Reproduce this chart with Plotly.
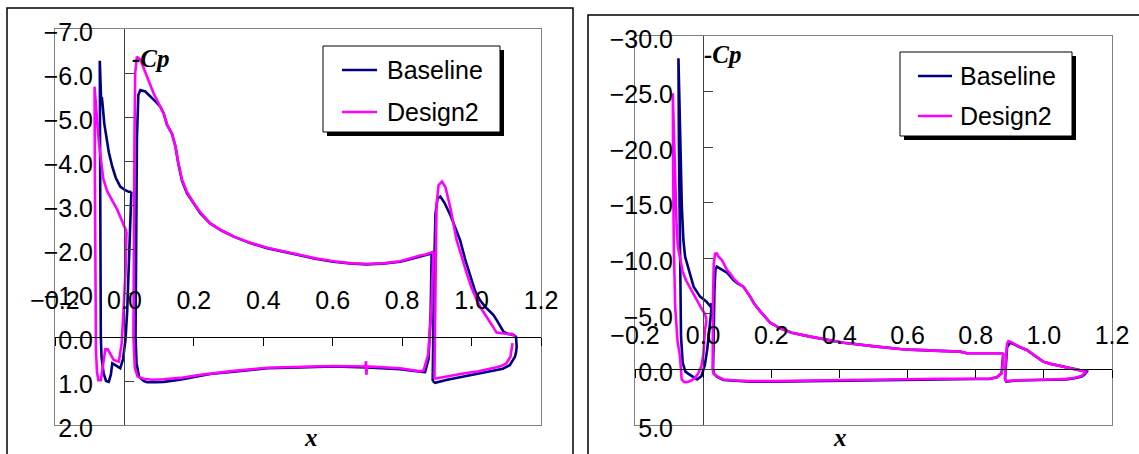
import plotly.graph_objects as go

W, H = 1139, 454

# ---------------- tick values / labels ----------------
X_TICKS = [-0.2, 0.0, 0.2, 0.4, 0.6, 0.8, 1.0, 1.2]
X_TICK_TEXT = ["−0.2", "0.0", "0.2", "0.4", "0.6", "0.8", "1.0", "1.2"]
L_Y_TICKS = [-7, -6, -5, -4, -3, -2, -1, 0, 1, 2]
L_Y_TICK_TEXT = ["−7.0", "−6.0", "−5.0", "−4.0", "−3.0", "−2.0", "−1.0", "0.0", "1.0", "2.0"]
R_Y_TICKS = [-30, -25, -20, -15, -10, -5, 0, 5]
R_Y_TICK_TEXT = ["−30.0", "−25.0", "−20.0", "−15.0", "−10.0", "−5.0", "0.0", "5.0"]
SERIES = ["Baseline", "Design2"]

# ---------------- LEFT panel data (x, Cp) ----------------
L_BASE_SLAT_X = [0.020, 0.012, 0.000, -0.012, -0.025, -0.035, -0.045, -0.052, -0.058, -0.062, -0.065, -0.067, -0.071,
                 -0.070, -0.069, -0.068, -0.066, -0.063, -0.060, -0.053, -0.045, -0.039, -0.035, -0.026, -0.012, -0.004,
                 0.003, 0.008, 0.012, 0.017, 0.020]
L_BASE_SLAT_CP = [-3.30, -3.30, -3.35, -3.42, -3.62, -3.87, -4.20, -4.50, -4.85, -5.20, -5.45, -5.35, -6.28,
                  -4.00, -1.50, 0.00, 0.45, 0.70, 0.83, 1.00, 1.02, 0.85, 0.60, 0.64, 0.71, 0.50,
                  0.07, -0.60, -1.45, -2.73, -3.30]
L_BASE_MAIN_X = [0.885, 0.870, 0.852, 0.820, 0.794, 0.750, 0.698, 0.650, 0.602, 0.550, 0.506, 0.460, 0.411, 0.360,
                 0.315, 0.280, 0.247, 0.219, 0.200, 0.180, 0.166, 0.155, 0.147, 0.137, 0.130, 0.123, 0.113, 0.104,
                 0.090, 0.075, 0.060, 0.046, 0.040, 0.036, 0.033,
                 0.032, 0.035, 0.042, 0.055, 0.065, 0.090, 0.113, 0.160, 0.219, 0.247, 0.315, 0.411, 0.506, 0.602,
                 0.698, 0.794, 0.852, 0.866, 0.876, 0.882, 0.885]
L_BASE_MAIN_CP = [-1.90, -1.86, -1.83, -1.76, -1.71, -1.67, -1.65, -1.67, -1.71, -1.78, -1.86, -1.93, -2.02, -2.14,
                  -2.28, -2.42, -2.58, -2.81, -3.02, -3.27, -3.55, -3.95, -4.33, -4.62, -4.72, -4.82, -5.08, -5.23,
                  -5.35, -5.46, -5.58, -5.61, -5.50, -4.50, -2.00,
                  0.00, 0.60, 0.90, 1.00, 1.03, 1.03, 1.02, 0.97, 0.88, 0.84, 0.79, 0.71, 0.69, 0.67,
                  0.69, 0.73, 0.79, 0.80, 0.50, -0.50, -1.90]
L_BASE_FLAP_X = [0.888, 0.889, 0.892, 0.896, 0.902, 0.910, 0.922, 0.940, 0.955, 0.967, 0.982, 0.996, 1.010, 1.024,
                 1.040, 1.053, 1.063, 1.072, 1.082, 1.092, 1.105, 1.120, 1.128,
                 1.130, 1.128, 1.125, 1.110, 1.090, 1.072, 1.020, 0.976, 0.930, 0.895, 0.888]
L_BASE_FLAP_CP = [1.00, 0.00, -1.50, -2.80, -3.15, -3.19, -3.05, -2.75, -2.45, -2.20, -1.75, -1.37, -1.05, -0.84,
                  -0.68, -0.58, -0.50, -0.39, -0.25, -0.12, -0.07, -0.05, 0.00,
                  0.22, 0.35, 0.45, 0.64, 0.72, 0.75, 0.83, 0.89, 0.97, 1.04, 1.00]

L_D2_SLAT_X = [0.006, 0.000, -0.010, -0.021, -0.035, -0.050, -0.061, -0.069, -0.074, -0.079, -0.083, -0.086,
               -0.085, -0.084, -0.082, -0.079, -0.075, -0.068, -0.061, -0.055, -0.048, -0.040, -0.031, -0.016,
               -0.008, -0.002, 0.003, 0.006]
L_D2_SLAT_CP = [-2.40, -2.52, -2.70, -2.90, -3.10, -3.32, -3.60, -4.05, -4.45, -4.95, -5.40, -5.69,
                -3.50, -1.00, 0.30, 0.80, 0.98, 0.98, 0.55, 0.28, 0.28, 0.40, 0.52, 0.56,
                0.15, -0.69, -1.45, -2.40]
L_D2_MAIN_X = [0.890, 0.870, 0.852, 0.820, 0.794, 0.750, 0.698, 0.650, 0.602, 0.550, 0.506, 0.460, 0.411, 0.360,
               0.315, 0.280, 0.247, 0.219, 0.200, 0.180, 0.166, 0.155, 0.147, 0.137, 0.130, 0.123, 0.113, 0.100,
               0.084, 0.065, 0.046, 0.036, 0.031, 0.029, 0.027,
               0.026, 0.030, 0.038, 0.055, 0.080, 0.113, 0.160, 0.219, 0.315, 0.411, 0.506, 0.602, 0.694, 0.696,
               0.697, 0.699, 0.794, 0.852, 0.862, 0.875, 0.884, 0.890]
L_D2_MAIN_CP = [-1.94, -1.88, -1.85, -1.77, -1.72, -1.68, -1.66, -1.68, -1.72, -1.79, -1.87, -1.94, -2.03, -2.15,
                -2.28, -2.42, -2.58, -2.83, -3.04, -3.30, -3.57, -3.97, -4.33, -4.62, -4.72, -4.82, -5.08, -5.30,
                -5.54, -5.92, -6.30, -6.37, -6.00, -4.50, -2.00,
                0.00, 0.70, 0.90, 0.95, 0.97, 0.96, 0.93, 0.86, 0.77, 0.70, 0.68, 0.66, 0.67, 0.55,
                0.86, 0.67, 0.71, 0.78, 0.76, 0.40, -0.60, -1.94]
L_D2_FLAP_UP_X = [0.893, 0.894, 0.896, 0.899, 0.905, 0.915, 0.925, 0.940, 0.957, 0.972, 0.986, 1.000, 1.015, 1.030,
                  1.044, 1.058, 1.072, 1.090, 1.105, 1.116, 1.125]
L_D2_FLAP_UP_CP = [0.95, 0.00, -1.50, -3.00, -3.45, -3.53, -3.40, -2.90, -2.20, -1.80, -1.45, -1.12, -0.84, -0.62,
                   -0.46, -0.28, -0.10, -0.08, -0.07, -0.07, 0.00]
L_D2_FLAP_LO_X = [1.118, 1.116, 1.112, 1.100, 1.085, 1.072, 1.020, 0.976, 0.930, 0.895, 0.893]
L_D2_FLAP_LO_CP = [0.14, 0.30, 0.45, 0.60, 0.66, 0.69, 0.78, 0.83, 0.90, 0.96, 0.95]

# ---------------- RIGHT panel data (x, Cp) ----------------
R_BASE_SLAT_X = [0.0255, 0.0205, 0.010, -0.009, -0.028, -0.038, -0.048, -0.053, -0.058, -0.0625, -0.0675, -0.0725,
                 -0.071, -0.068, -0.065, -0.060, -0.052, -0.043, -0.030, -0.018, -0.005, 0.005, 0.012, 0.018,
                 0.023, 0.0255]
R_BASE_SLAT_CP = [-5.95, -5.70, -6.10, -6.55, -7.45, -8.65, -9.60, -10.15, -11.65, -14.60, -20.60, -28.00,
                  -20.0, -9.0, -3.0, -0.6, 0.2, 0.4, 0.7, 0.9, 0.6, -0.4, -1.8, -3.3, -5.0, -5.95]
R_BASE_MAIN_X = [0.881, 0.850, 0.800, 0.774, 0.754, 0.705, 0.676, 0.607, 0.578, 0.510, 0.412, 0.314, 0.260, 0.226,
                 0.197, 0.167, 0.150, 0.138, 0.118, 0.100, 0.089, 0.070, 0.055, 0.040, 0.036, 0.033, 0.031, 0.029,
                 0.032, 0.040, 0.060, 0.100, 0.138, 0.200, 0.300, 0.400, 0.500, 0.600, 0.700, 0.800, 0.840,
                 0.862, 0.876, 0.879, 0.881]
R_BASE_MAIN_CP = [-1.45, -1.45, -1.45, -1.45, -1.60, -1.62, -1.69, -1.78, -1.84, -2.05, -2.40, -2.95, -3.30, -3.70,
                  -4.20, -5.25, -5.90, -6.55, -7.45, -7.75, -8.05, -8.70, -8.95, -9.25, -9.00, -7.00, -3.00, 0.00,
                  0.40, 0.65, 0.95, 1.05, 1.10, 1.10, 1.05, 1.00, 0.95, 0.90, 0.86, 0.86, 0.86,
                  0.71, 0.35, -0.50, -1.45]
R_BASE_FLAP_X = [0.886, 0.888, 0.892, 0.900, 0.910, 0.930, 0.950, 0.975, 0.998, 1.020, 1.048, 1.070, 1.095, 1.110,
                 1.126, 1.120, 1.111, 1.090, 1.066, 1.020, 0.970, 0.920, 0.890, 0.886]
R_BASE_FLAP_CP = [0.9, -0.5, -2.0, -2.4, -2.3, -2.0, -1.75, -1.2, -0.7, -0.5, -0.3, -0.15, 0.0, 0.1,
                  0.2, 0.45, 0.65, 0.8, 0.9, 0.93, 0.95, 1.0, 1.1, 0.9]

R_D2_SLAT_X = [0.010, 0.005, -0.005, -0.018, -0.030, -0.040, -0.050, -0.060, -0.068, -0.074, -0.078, -0.082, -0.085,
               -0.087, -0.089, -0.088, -0.086, -0.082, -0.075, -0.068, -0.063, -0.055, -0.045, -0.035, -0.025,
               -0.015, -0.005, 0.001, 0.005, 0.010]
R_D2_SLAT_CP = [-4.45, -5.00, -5.50, -6.25, -6.90, -7.40, -8.00, -8.80, -10.00, -11.00, -13.00, -17.60, -22.00,
                -24.00, -24.85, -18.0, -11.0, -5.6, -2.5, -1.2, 0.9, 1.15, 1.12, 1.0, 0.8,
                0.4, -0.3, -1.45, -3.5, -4.45]
R_D2_MAIN_X = [0.881, 0.850, 0.800, 0.774, 0.754, 0.705, 0.676, 0.607, 0.578, 0.510, 0.412, 0.314, 0.260, 0.226,
               0.197, 0.167, 0.150, 0.138, 0.118, 0.100, 0.089, 0.079, 0.070, 0.055, 0.045, 0.040, 0.035, 0.031,
               0.029, 0.028, 0.031, 0.040, 0.060, 0.100, 0.138, 0.200, 0.300, 0.400, 0.500, 0.600, 0.700, 0.800,
               0.840, 0.862, 0.876, 0.879, 0.881]
R_D2_MAIN_CP = [-1.45, -1.45, -1.45, -1.45, -1.60, -1.62, -1.69, -1.78, -1.84, -2.05, -2.40, -2.95, -3.30, -3.70,
                -4.20, -5.25, -5.90, -6.55, -7.45, -7.85, -8.20, -8.65, -8.95, -9.85, -10.15, -10.45, -10.40, -9.50,
                -6.00, 0.00, 0.40, 0.60, 0.90, 1.00, 1.05, 1.05, 1.00, 0.95, 0.90, 0.88, 0.84, 0.84,
                0.84, 0.70, 0.35, -0.50, -1.45]
R_D2_FLAP_X = [0.886, 0.888, 0.892, 0.896, 0.905, 0.925, 0.950, 0.975, 0.998, 1.020, 1.048, 1.070, 1.095, 1.110,
               1.124, 1.118, 1.110, 1.090, 1.066, 1.020, 0.970, 0.920, 0.890, 0.886]
R_D2_FLAP_CP = [0.9, -0.8, -2.3, -2.55, -2.45, -2.1, -1.75, -1.2, -0.7, -0.5, -0.3, -0.15, 0.0, 0.1,
                0.2, 0.40, 0.6, 0.75, 0.85, 0.9, 0.92, 0.97, 1.05, 0.9]

COLORS = {"Baseline": "#000080", "Design2": "#FF00FF"}


def join(*segs):
    xs, ys = [], []
    for i, (sx, sy) in enumerate(segs):
        if i:
            xs.append(None)
            ys.append(None)
        xs += list(sx)
        ys += list(sy)
    return xs, ys


# ---------------- geometry (pixels) ----------------
X_RANGE = [-0.2, 1.2]
L_Y_RANGE = [2, -7]
R_Y_RANGE = [5, -30]
L_PX = (55, 541, 29, 425)    # left, right, top, bottom of plot area
R_PX = (635, 1112, 36, 425)


def fx(px):
    return px / W


def fy(py):
    return 1 - py / H


def dom_x(b):
    return [fx(b[0]), fx(b[1])]


def dom_y(b):
    return [fy(b[3]), fy(b[2])]


def val_pos(v, dom, rng):
    return dom[0] + (v - rng[0]) / (rng[1] - rng[0]) * (dom[1] - dom[0])


FONT = "Liberation Sans, Arial, sans-serif"
TICKFONT = dict(family=FONT, size=25, color="black")

fig = go.Figure()

panels = [
    ("x", "y", {"Baseline": join((L_BASE_SLAT_X, L_BASE_SLAT_CP), (L_BASE_MAIN_X, L_BASE_MAIN_CP),
                                 (L_BASE_FLAP_X, L_BASE_FLAP_CP)),
                "Design2": join((L_D2_SLAT_X, L_D2_SLAT_CP), (L_D2_MAIN_X, L_D2_MAIN_CP),
                                (L_D2_FLAP_UP_X, L_D2_FLAP_UP_CP), (L_D2_FLAP_LO_X, L_D2_FLAP_LO_CP))}),
    ("x2", "y2", {"Baseline": join((R_BASE_SLAT_X, R_BASE_SLAT_CP), (R_BASE_MAIN_X, R_BASE_MAIN_CP),
                                   (R_BASE_FLAP_X, R_BASE_FLAP_CP)),
                  "Design2": join((R_D2_SLAT_X, R_D2_SLAT_CP), (R_D2_MAIN_X, R_D2_MAIN_CP),
                                  (R_D2_FLAP_X, R_D2_FLAP_CP))}),
]
for xa, ya, data in panels:
    for name in SERIES:
        xs, ys = data[name]
        fig.add_trace(go.Scatter(x=xs, y=ys, mode="lines", name=name, xaxis=xa, yaxis=ya,
                                 line=dict(color=COLORS[name], width=2.6), connectgaps=False,
                                 showlegend=False))

# empty helper traces so the overlay axes are instantiated
for xa, ya in [("x3", "y"), ("x", "y3"), ("x5", "y"), ("x", "y5"),
               ("x4", "y2"), ("x2", "y4"), ("x6", "y2"), ("x2", "y6")]:
    fig.add_trace(go.Scatter(x=[], y=[], xaxis=xa, yaxis=ya, showlegend=False, hoverinfo="skip"))

layout = dict(width=W, height=H, margin=dict(l=0, r=0, t=0, b=0, pad=0, autoexpand=False),
              paper_bgcolor="white", plot_bgcolor="white", showlegend=False)

base_ax = dict(showline=True, mirror=True, linecolor="#808080", linewidth=1, ticks="", showticklabels=False,
               showgrid=False, zeroline=False, automargin=False)

for (xk, yk, xzk, yzk, xlk, ylk, bpx, yrng, yt, ytt, ylab_px, xlab_px) in [
        ("xaxis", "yaxis", "xaxis3", "yaxis3", "xaxis5", "yaxis5", L_PX, L_Y_RANGE, L_Y_TICKS, L_Y_TICK_TEXT, 93, 283),
        ("xaxis2", "yaxis2", "xaxis4", "yaxis4", "xaxis6", "yaxis6", R_PX, R_Y_RANGE, R_Y_TICKS, R_Y_TICK_TEXT, 673, 318)]:
    dx, dy = dom_x(bpx), dom_y(bpx)
    xid = "x" if xk == "xaxis" else "x2"
    yid = "y" if yk == "yaxis" else "y2"
    layout[xk] = dict(base_ax, domain=dx, range=X_RANGE, anchor=yid)
    layout[yk] = dict(base_ax, domain=dy, range=yrng, anchor=xid)
    # horizontal axis line at Cp = 0 with ticks
    layout[xzk] = dict(overlaying=xid, anchor="free", position=val_pos(0, dy, yrng), side="bottom",
                       range=X_RANGE, showline=True, linecolor="black", linewidth=1, ticks="outside",
                       ticklen=8, tickcolor="black", tickmode="array", tickvals=X_TICKS,
                       showticklabels=False, showgrid=False, zeroline=False, automargin=False)
    # vertical axis line at x = 0 with ticks
    layout[yzk] = dict(overlaying=yid, anchor="free", position=val_pos(0, dx, X_RANGE), side="left",
                       range=yrng, showline=True, linecolor="#404040", linewidth=1, ticks="inside",
                       ticklen=9, tickcolor="#404040", tickmode="array", tickvals=yt,
                       showticklabels=False, showgrid=False, zeroline=False, automargin=False)
    # x tick labels
    layout[xlk] = dict(overlaying=xid, anchor="free", position=fy(xlab_px), side="bottom", range=X_RANGE,
                       showline=False, ticks="", tickmode="array", tickvals=X_TICKS, ticktext=X_TICK_TEXT,
                       tickfont=TICKFONT, showgrid=False, zeroline=False, automargin=False)
    # y tick labels
    layout[ylk] = dict(overlaying=yid, anchor="free", position=fx(ylab_px), side="left", range=yrng,
                       showline=False, ticks="", tickmode="array", tickvals=yt, ticktext=ytt,
                       tickfont=TICKFONT, showgrid=False, zeroline=False, automargin=False,
                       ticklabelshift=-3)

fig.update_layout(**layout)

shapes = []
# chart-area borders
shapes.append(dict(type="rect", xref="paper", yref="paper", x0=fx(7), x1=fx(573), y0=-0.2, y1=fy(8),
                   line=dict(color="black", width=1.5), fillcolor="rgba(0,0,0,0)", layer="below"))
shapes.append(dict(type="rect", xref="paper", yref="paper", x0=fx(588), x1=1.2, y0=-0.2, y1=fy(15),
                   line=dict(color="black", width=1.5), fillcolor="rgba(0,0,0,0)", layer="below"))

annotations = []
# legends (box, shadow, samples, texts)
for (bx0, by0, bx1, by1, lx0, lx1, tx, ly1, ly2) in [(323, 46, 500, 132, 342, 377, 385, 70, 112),
                                                     (900, 52, 1072, 136, 918, 952, 958, 76, 116)]:
    shapes.append(dict(type="rect", xref="paper", yref="paper", x0=fx(bx0 + 4), x1=fx(bx1 + 4),
                       y0=fy(by1 + 4), y1=fy(by0 + 4), line=dict(width=0), fillcolor="black"))
    shapes.append(dict(type="rect", xref="paper", yref="paper", x0=fx(bx0), x1=fx(bx1),
                       y0=fy(by1), y1=fy(by0), line=dict(color="black", width=1), fillcolor="white"))
    for name, ly in zip(SERIES, (ly1, ly2)):
        shapes.append(dict(type="line", xref="paper", yref="paper", x0=fx(lx0), x1=fx(lx1), y0=fy(ly), y1=fy(ly),
                           line=dict(color=COLORS[name], width=2.5)))
        annotations.append(dict(xref="paper", yref="paper", x=fx(tx), y=fy(ly), xanchor="left", yanchor="middle",
                                text=name, showarrow=False, font=dict(family=FONT, size=25, color="black")))

SERIF = "Liberation Serif, Times New Roman, serif"
for (px, py) in [(151, 58), (723, 55)]:
    annotations.append(dict(xref="paper", yref="paper", x=fx(px), y=fy(py), xanchor="center", yanchor="middle",
                            text="<b><i>-Cp</i></b>", showarrow=False,
                            font=dict(family=SERIF, size=25, color="black")))
for (px, py) in [(311, 437), (840, 437)]:
    annotations.append(dict(xref="paper", yref="paper", x=fx(px), y=fy(py), xanchor="center", yanchor="middle",
                            text="<b><i>x</i></b>", showarrow=False,
                            font=dict(family=SERIF, size=25, color="black")))

fig.update_layout(shapes=shapes, annotations=annotations)
fig.write_html("out.html")
